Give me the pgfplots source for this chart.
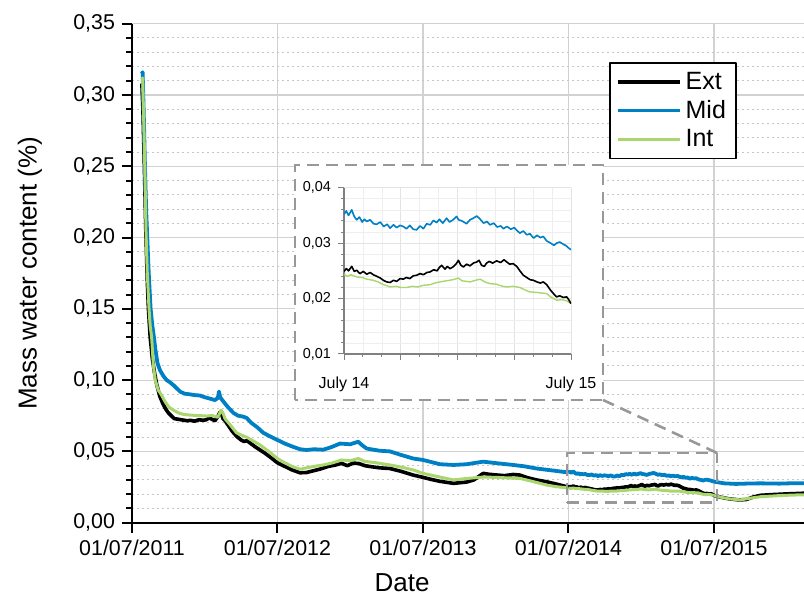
\documentclass[border=0pt]{standalone}
\usepackage{fontspec}
\setmainfont{Liberation Sans}
\usepackage{pgfplots}
\usepackage{pgfplotstable}
\pgfplotsset{compat=1.18}
\definecolor{cExt}{RGB}{0,0,0}
\definecolor{cMid}{RGB}{0,128,196}
\definecolor{cInt}{RGB}{170,214,110}
\definecolor{frameGray}{RGB}{152,152,152}
\pgfplotsset{commafmt/.style={/pgf/number format/fixed, /pgf/number format/fixed zerofill,
  /pgf/number format/precision=2, /pgf/number format/use comma}}

% ---- main series, before the zoomed year (x = years since 01/07/2011)
\pgfplotstableread{
x y
0.068 0.3080
0.075 0.2900
0.085 0.2500
0.095 0.2050
0.105 0.1700
0.113 0.1500
0.125 0.1300
0.140 0.1150
0.155 0.1050
0.170 0.0970
0.190 0.0890
0.210 0.0840
0.230 0.0800
0.250 0.0770
0.270 0.0750
0.290 0.0730
0.320 0.0725
0.350 0.0720
0.380 0.0715
0.400 0.0718
0.430 0.0712
0.460 0.0722
0.490 0.0718
0.510 0.0722
0.530 0.0735
0.550 0.0725
0.570 0.0715
0.590 0.0745
0.605 0.0775
0.615 0.0765
0.625 0.0730
0.640 0.0715
0.660 0.0685
0.690 0.0640
0.720 0.0605
0.750 0.0580
0.770 0.0570
0.790 0.0575
0.810 0.0560
0.850 0.0530
0.880 0.0510
0.910 0.0490
0.950 0.0460
1.000 0.0420
1.050 0.0395
1.100 0.0370
1.155 0.0350
1.200 0.0352
1.250 0.0365
1.300 0.0378
1.350 0.0395
1.400 0.0405
1.440 0.0416
1.480 0.0400
1.520 0.0418
1.560 0.0415
1.600 0.0400
1.650 0.0392
1.700 0.0385
1.773 0.0380
1.850 0.0360
1.933 0.0334
2.000 0.0318
2.050 0.0305
2.117 0.0290
2.210 0.0276
2.300 0.0285
2.350 0.0300
2.414 0.0346
2.450 0.0340
2.500 0.0335
2.560 0.0330
2.620 0.0338
2.666 0.0334
2.720 0.0315
2.780 0.0300
2.850 0.0287
2.920 0.0270
3.000 0.0249
}\mainExtA
\pgfplotstableread{
x y
0.068 0.3150
0.073 0.3160
0.080 0.2900
0.089 0.2500
0.097 0.2200
0.105 0.2000
0.115 0.1750
0.128 0.1500
0.140 0.1380
0.151 0.1300
0.160 0.1220
0.175 0.1120
0.192 0.1070
0.215 0.1030
0.238 0.1000
0.261 0.0985
0.290 0.0960
0.330 0.0920
0.360 0.0905
0.400 0.0900
0.430 0.0895
0.467 0.0892
0.500 0.0880
0.536 0.0870
0.570 0.0860
0.590 0.0875
0.598 0.0920
0.606 0.0880
0.628 0.0850
0.660 0.0810
0.697 0.0770
0.730 0.0750
0.760 0.0745
0.788 0.0735
0.820 0.0700
0.860 0.0670
0.903 0.0630
0.950 0.0605
1.000 0.0580
1.050 0.0555
1.100 0.0535
1.155 0.0515
1.200 0.0510
1.250 0.0515
1.315 0.0512
1.370 0.0530
1.430 0.0555
1.500 0.0550
1.555 0.0568
1.580 0.0545
1.613 0.0520
1.700 0.0505
1.773 0.0500
1.850 0.0475
1.933 0.0450
2.000 0.0440
2.117 0.0410
2.210 0.0405
2.300 0.0410
2.414 0.0428
2.500 0.0418
2.620 0.0405
2.700 0.0395
2.780 0.0380
2.900 0.0365
3.000 0.0352
}\mainMidA
\pgfplotstableread{
x y
0.068 0.3110
0.073 0.3120
0.080 0.2850
0.088 0.2500
0.096 0.2050
0.105 0.1750
0.117 0.1500
0.125 0.1380
0.135 0.1300
0.147 0.1100
0.160 0.1000
0.180 0.0930
0.200 0.0900
0.227 0.0850
0.255 0.0810
0.284 0.0790
0.320 0.0770
0.360 0.0758
0.399 0.0755
0.440 0.0752
0.480 0.0750
0.513 0.0748
0.550 0.0752
0.587 0.0740
0.600 0.0760
0.612 0.0790
0.625 0.0770
0.639 0.0730
0.680 0.0680
0.719 0.0630
0.750 0.0615
0.788 0.0600
0.830 0.0575
0.880 0.0545
0.940 0.0500
1.000 0.0450
1.050 0.0420
1.100 0.0395
1.155 0.0375
1.200 0.0385
1.250 0.0395
1.315 0.0405
1.380 0.0420
1.440 0.0440
1.500 0.0435
1.555 0.0450
1.600 0.0430
1.680 0.0420
1.773 0.0405
1.850 0.0390
1.933 0.0370
2.000 0.0346
2.117 0.0320
2.210 0.0300
2.300 0.0310
2.414 0.0320
2.500 0.0318
2.670 0.0310
2.750 0.0290
2.850 0.0264
2.920 0.0252
3.000 0.0244
}\mainIntA

% ---- zoomed year (x = fraction of the year July 14 - July 15)
\pgfplotstableread{
x y
0.000 0.0249
0.010 0.0254
0.020 0.0250
0.034 0.0258
0.045 0.0249
0.056 0.0251
0.070 0.0245
0.085 0.0249
0.100 0.0244
0.115 0.0247
0.129 0.0243
0.145 0.0240
0.160 0.0237
0.173 0.0233
0.188 0.0230
0.203 0.0229
0.218 0.0233
0.232 0.0231
0.247 0.0236
0.261 0.0235
0.275 0.0238
0.290 0.0236
0.305 0.0241
0.320 0.0242
0.335 0.0245
0.350 0.0243
0.365 0.0247
0.379 0.0248
0.395 0.0252
0.410 0.0250
0.420 0.0256
0.430 0.0260
0.445 0.0253
0.455 0.0258
0.467 0.0254
0.480 0.0257
0.495 0.0263
0.504 0.0269
0.515 0.0260
0.526 0.0257
0.540 0.0262
0.555 0.0259
0.570 0.0264
0.585 0.0266
0.595 0.0269
0.606 0.0260
0.618 0.0258
0.628 0.0264
0.640 0.0267
0.655 0.0264
0.672 0.0268
0.690 0.0265
0.705 0.0270
0.717 0.0266
0.730 0.0262
0.745 0.0263
0.761 0.0258
0.775 0.0250
0.790 0.0242
0.805 0.0238
0.820 0.0234
0.834 0.0233
0.850 0.0230
0.865 0.0228
0.878 0.0230
0.893 0.0225
0.910 0.0215
0.925 0.0208
0.937 0.0203
0.950 0.0205
0.966 0.0202
0.981 0.0203
0.990 0.0198
1.000 0.0191
}\insetExt
\pgfplotstableread{
x y
0.000 0.0352
0.010 0.0358
0.020 0.0350
0.034 0.0360
0.045 0.0348
0.056 0.0342
0.068 0.0347
0.080 0.0338
0.090 0.0343
0.100 0.0339
0.115 0.0342
0.130 0.0335
0.144 0.0334
0.160 0.0338
0.175 0.0330
0.190 0.0334
0.203 0.0327
0.218 0.0333
0.232 0.0328
0.247 0.0332
0.261 0.0330
0.275 0.0326
0.290 0.0332
0.305 0.0325
0.320 0.0324
0.335 0.0331
0.350 0.0326
0.364 0.0335
0.380 0.0333
0.394 0.0341
0.408 0.0337
0.420 0.0343
0.435 0.0336
0.452 0.0345
0.465 0.0338
0.480 0.0342
0.496 0.0348
0.505 0.0342
0.520 0.0340
0.540 0.0335
0.555 0.0342
0.570 0.0345
0.585 0.0349
0.600 0.0343
0.615 0.0336
0.630 0.0339
0.643 0.0333
0.660 0.0336
0.675 0.0329
0.690 0.0331
0.702 0.0326
0.718 0.0330
0.735 0.0325
0.750 0.0328
0.761 0.0323
0.775 0.0318
0.790 0.0322
0.805 0.0315
0.819 0.0317
0.835 0.0309
0.850 0.0314
0.865 0.0310
0.878 0.0312
0.893 0.0304
0.910 0.0300
0.925 0.0296
0.937 0.0300
0.950 0.0302
0.966 0.0298
0.980 0.0295
0.990 0.0291
1.000 0.0288
}\insetMid
\pgfplotstableread{
x y
0.000 0.0244
0.015 0.0240
0.030 0.0243
0.056 0.0239
0.080 0.0238
0.100 0.0235
0.129 0.0233
0.150 0.0230
0.175 0.0225
0.203 0.0221
0.230 0.0222
0.250 0.0220
0.276 0.0220
0.300 0.0222
0.325 0.0221
0.350 0.0224
0.380 0.0225
0.400 0.0228
0.423 0.0230
0.450 0.0232
0.480 0.0234
0.504 0.0237
0.520 0.0232
0.540 0.0231
0.555 0.0230
0.580 0.0233
0.600 0.0235
0.620 0.0230
0.643 0.0227
0.670 0.0226
0.700 0.0222
0.717 0.0221
0.745 0.0222
0.775 0.0220
0.800 0.0215
0.819 0.0212
0.850 0.0211
0.870 0.0210
0.893 0.0209
0.910 0.0203
0.937 0.0197
0.960 0.0198
0.980 0.0196
1.000 0.0191
}\insetInt

% ---- main series, after the zoomed year
\pgfplotstableread{
x y
4.00 0.0191
4.05 0.0178
4.10 0.0168
4.17 0.0160
4.22 0.0162
4.27 0.0180
4.32 0.0192
4.40 0.0197
4.50 0.0202
4.58 0.0205
4.65 0.0208
}\mainExtC
\pgfplotstableread{
x y
4.00 0.0288
4.07 0.0276
4.15 0.0272
4.25 0.0275
4.32 0.0276
4.45 0.0274
4.55 0.0277
4.65 0.0276
}\mainMidC
\pgfplotstableread{
x y
4.00 0.0191
4.05 0.0178
4.10 0.0168
4.18 0.0160
4.25 0.0172
4.32 0.0182
4.45 0.0190
4.55 0.0194
4.65 0.0196
}\mainIntC

\begin{document}
\begin{tikzpicture}
\useasboundingbox (0,0) rectangle (402pt,301.5pt);
\begin{axis}[
  at={(66pt,40.15pt)}, anchor=south west,
  scale only axis, width=336pt, height=249.5pt,
  xmin=0, xmax=4.619, ymin=0, ymax=0.35,
  axis lines*=left,
  axis line style={line width=1pt, black},
  xtick={0,1,2,3,4},
  xticklabels={01/07/2011,01/07/2012,01/07/2013,01/07/2014,01/07/2015},
  ytick={0,0.05,0.1,0.15,0.2,0.25,0.3,0.35},
  minor y tick num=4,
  tick align=outside, major tick length=5pt, minor tick length=3pt,
  every tick/.style={black, line width=1pt},
  xmajorgrids, ymajorgrids, yminorgrids,
  major grid style={draw=gray!35, line width=0.6pt},
  minor grid style={draw=gray!45, line width=0.5pt, dash pattern=on 1pt off 1.5pt},
  tick label style={font=\fontsize{10.7}{12}\selectfont},
  /pgf/number format/assume math mode=true,
  scaled y ticks=false,
  yticklabel style={commafmt},
  xlabel={Date},
  ylabel={Mass water content (\%)},
  every axis x label/.style={at={(axis description cs:0.402,-0.121)}, anchor=center, font=\fontsize{13}{15}\selectfont},
  every axis y label/.style={at={(axis description cs:-0.152,0.5)}, rotate=90, anchor=center, font=\fontsize{13}{15}\selectfont},
  legend cell align=left,
  legend style={at={(axis description cs:0.71,0.923)}, anchor=north west, draw=black, line width=0.7pt,
    font=\fontsize{12.5}{15}\selectfont, inner xsep=3pt, inner ysep=2.5pt},
  legend image code/.code={\draw[#1] (0pt,0pt) -- (31pt,0pt);},
  line join=round,
]
\addplot[cExt, line width=1.8pt] table {\mainExtA};
\addlegendentry{Ext}
\addplot[cMid, line width=1.9pt] table {\mainMidA};
\addlegendentry{Mid}
\addplot[cInt, line width=1.5pt] table {\mainIntA};
\addlegendentry{Int}
\addplot[cExt, line width=1.8pt, forget plot] table[x expr=\thisrow{x}+3, y=y] {\insetExt};
\addplot[cMid, line width=1.9pt, forget plot] table[x expr=\thisrow{x}+3, y=y] {\insetMid};
\addplot[cInt, line width=1.5pt, forget plot] table[x expr=\thisrow{x}+3, y=y] {\insetInt};
\addplot[cExt, line width=1.8pt, forget plot] table {\mainExtC};
\addplot[cMid, line width=1.9pt, forget plot] table {\mainMidC};
\addplot[cInt, line width=1.5pt, forget plot] table {\mainIntC};
\addplot[frameGray, line width=1.3pt, dash pattern=on 6pt off 3.5pt, forget plot]
  coordinates {(2.99,0.014) (4.02,0.014) (4.02,0.049) (2.99,0.049) (2.99,0.014)};
\coordinate (rectTR) at (axis cs:4.02,0.049);
\end{axis}
\draw[frameGray, line width=1.3pt, dash pattern=on 6pt off 3.5pt, fill=white]
  (147.5pt,101.5pt) rectangle (301.5pt,219pt);
\draw[frameGray, line width=1.3pt, dash pattern=on 6pt off 3.5pt] (301.5pt,101.5pt) -- (rectTR);
\begin{axis}[
  at={(172pt,124.5pt)}, anchor=south west,
  scale only axis, width=113.5pt, height=83.15pt,
  xmin=0, xmax=1, ymin=0.01, ymax=0.04,
  axis lines*=left,
  axis line style={line width=0.6pt, gray},
  xtick={0,0.25,0.5,0.75,1},
  xticklabels={July 14,,,,July 15},
  minor x tick num=2,
  ytick={0.01,0.02,0.03,0.04},
  minor y tick num=4,
  grid=both,
  major grid style={draw=gray!22, line width=0.4pt},
  minor grid style={draw=gray!13, line width=0.3pt},
  tick align=outside, major tick length=3pt, minor tick length=1.5pt,
  every tick/.style={gray, line width=0.5pt},
  /pgf/number format/assume math mode=true,
  scaled y ticks=false,
  yticklabel style={font=\fontsize{7.2}{8}\selectfont, commafmt},
  xticklabel style={font=\fontsize{8}{9}\selectfont, yshift=-5pt},
  line join=round,
]
\addplot[cMid, line width=0.8pt] table {\insetMid};
\addplot[cInt, line width=0.7pt] table {\insetInt};
\addplot[cExt, line width=0.8pt] table {\insetExt};
\end{axis}
\end{tikzpicture}
\end{document}
